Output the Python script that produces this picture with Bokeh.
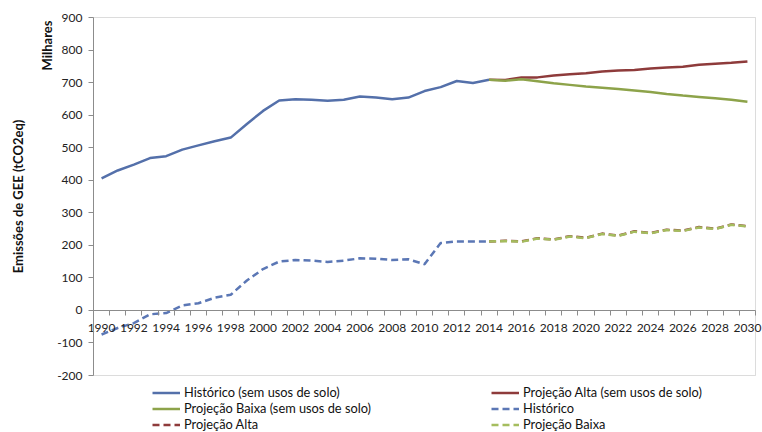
import math
from bokeh.plotting import figure
from bokeh.models import (Range1d, FixedTicker, Legend, LegendItem, LinearAxis,
                          BoxAnnotation, Label)
from bokeh.embed import file_html
from bokeh.resources import INLINE

# ---- data (thousands of tCO2eq) ----
years_hist = list(range(1990, 2015))
hist_solid = [406, 430, 448, 468, 474, 494, 507, 520, 531, 573, 613, 645, 649, 647, 644,
              647, 657, 654, 649, 654, 674, 686, 705, 699, 709]
hist_dash = [-74, -54, -39, -12, -8, 15, 22, 39, 48, 92, 127, 150, 155, 153, 149,
             153, 160, 159, 155, 157, 142, 207, 212, 212, 212]

years_proj = list(range(2014, 2031))
alta_solid = [709, 708, 716, 716, 722, 726, 729, 734, 737, 739, 743, 746, 749, 755, 758, 761, 765]
baixa_solid = [709, 706, 710, 704, 698, 693, 688, 684, 680, 676, 671, 665, 660, 656, 652, 647, 641]
alta_dash = [212, 214, 212, 222, 218, 228, 223, 236, 230, 243, 238, 248, 245, 256, 251, 264, 259]
baixa_dash = [212, 213, 211, 221, 217, 227, 222, 235, 229, 242, 237, 247, 244, 255, 250, 263, 258]

all_years = list(range(1990, 2031))
x_tick_labels = list(range(1990, 2031, 2))
y_ticks = list(range(-200, 901, 100))

labels_col1 = ["Histórico (sem usos de solo)", "Projeção Baixa (sem usos de solo)", "Projeção Alta"]
labels_col2 = ["Projeção Alta (sem usos de solo)", "Histórico", "Projeção Baixa"]
y_title = "Emissões de GEE (tCO2eq)"
unit_title = "Milhares"

# ---- styling / layout ----
BLUE = "#5470AA"
BLUE_D = "#5B77B5"
RED = "#8E3B3B"
GREEN = "#8DA34A"
GREEN_D = "#A5BD5E"
GRAY = "#8C8C8C"
TXT = "#222222"
FONT = "Lato"
W, H = 762, 432
PL, PR, PT, PB = 93, 755, 17, 375   # plot-area box in pixels

x0, x1 = all_years[0] - 0.5, all_years[-1] + 0.5
y0, y1 = y_ticks[0], y_ticks[-1]
ppx = (PR - PL) / (x1 - x0)
ppy = (PB - PT) / (y1 - y0)

p = figure(width=W, height=H, output_backend="svg", toolbar_location=None, title=None,
           x_axis_location=None, y_axis_location=None,
           x_range=Range1d(x0 - PL / ppx, x1 + (W - PR) / ppx),
           y_range=Range1d(y0 - (H - PB) / ppy, y1 + PT / ppy),
           min_border=0, min_border_left=0, min_border_right=0,
           min_border_top=0, min_border_bottom=0)
p.outline_line_color = None
p.xgrid.visible = False
p.ygrid.visible = False
p.background_fill_color = "white"
p.border_fill_color = "white"

# plot-area border
p.add_layout(BoxAnnotation(left=x0, right=x1, bottom=y0, top=y1,
                           fill_alpha=0, line_color=GRAY, line_width=1, level="underlay"))

# x axis crossing at zero
xa = LinearAxis(fixed_location=0, bounds=(x0, x1),
                ticker=FixedTicker(ticks=x_tick_labels,
                                   minor_ticks=[y - 0.5 for y in all_years] + [x1]),
                major_label_overrides={v: str(v) for v in x_tick_labels},
                axis_line_color=GRAY, major_tick_line_color=None,
                major_tick_in=0, major_tick_out=5,
                minor_tick_line_color=GRAY, minor_tick_in=0, minor_tick_out=5,
                major_label_standoff=9,
                major_label_text_font=FONT, major_label_text_font_size="12px",
                major_label_text_color=TXT)
p.add_layout(xa, "below")

ya = LinearAxis(fixed_location=x0, bounds=(y0, y1),
                ticker=FixedTicker(ticks=y_ticks, minor_ticks=[]),
                major_label_overrides={v: str(v) for v in y_ticks},
                axis_line_color=GRAY, major_tick_line_color=GRAY,
                major_tick_in=0, major_tick_out=5, minor_tick_line_color=None,
                major_label_standoff=6,
                major_label_text_font=FONT, major_label_text_font_size="12px",
                major_label_text_color=TXT)
p.add_layout(ya, "left")

# axis titles
p.add_layout(Label(x=x0, y=y1, x_offset=-(PL - 46), y_offset=-3, text=unit_title,
                   angle=math.pi / 2, text_align="right", text_baseline="middle",
                   text_font=FONT, text_font_size="13px", text_font_style="bold",
                   text_color="#111111"))
p.add_layout(Label(x=x0, y=(y0 + y1) / 2, x_offset=-(PL - 17), text=y_title,
                   angle=math.pi / 2, text_align="center", text_baseline="middle",
                   text_font=FONT, text_font_size="13px", text_font_style="bold",
                   text_color="#111111"))

LW = 2.5
DASH = "7 4"
r1 = p.line(years_hist, hist_solid, line_color=BLUE, line_width=LW)
r2 = p.line(years_proj, alta_solid, line_color=RED, line_width=LW)
r3 = p.line(years_proj, baixa_solid, line_color=GREEN, line_width=LW)
r4 = p.line(years_hist, hist_dash, line_color=BLUE_D, line_width=LW, line_dash=DASH)
r5 = p.line(years_proj, alta_dash, line_color=RED, line_width=LW, line_dash=DASH)
r6 = p.line(years_proj, baixa_dash, line_color=GREEN_D, line_width=LW, line_dash=DASH)


def add_legend(labels, rends, loc):
    lg = Legend(items=[LegendItem(label=l, renderers=[r]) for l, r in zip(labels, rends)],
                location=loc, orientation="vertical",
                border_line_color=None, background_fill_alpha=0,
                padding=0, margin=0, spacing=-2,
                glyph_width=28, glyph_height=13, label_height=13, label_standoff=4,
                label_text_font=FONT, label_text_font_size="12.8px",
                label_text_color="#111111")
    p.add_layout(lg)


add_legend(labels_col1, [r1, r3, r5], (152, 0))
add_legend(labels_col2, [r2, r4, r6], (491, 0))

open("out.html", "w").write(file_html(p, INLINE))
